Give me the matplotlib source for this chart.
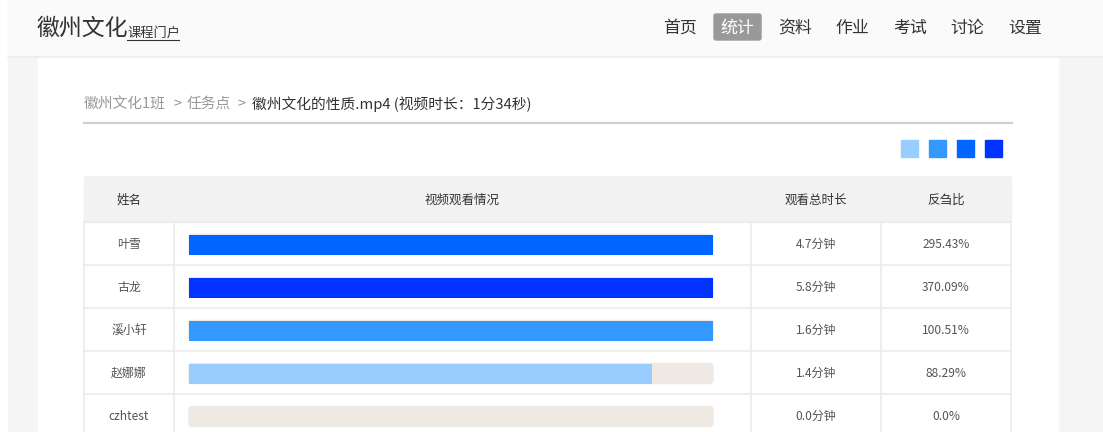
import matplotlib.pyplot as plt
from matplotlib.patches import Rectangle, FancyBboxPatch

plt.rcParams['font.family'] = ['Noto Sans CJK SC', 'DejaVu Sans']

# ------------------------ Data ------------------------
names = ["叶雪", "古龙", "溪小轩", "赵娜娜", "czhtest"]
watch_minutes = ["4.7分钟", "5.8分钟", "1.6分钟", "1.4分钟", "0.0分钟"]
ratio = [295.43, 370.09, 100.51, 88.29, 0.0]
ratio_labels = ["295.43%", "370.09%", "100.51%", "88.29%", "0.0%"]

nav_items = ["首页", "统计", "资料", "作业", "考试", "讨论", "设置"]
nav_x = [680, 737, 795, 852, 910, 967, 1025]
active_nav = "统计"

crumbs = ["徽州文化1班", ">", "任务点", ">"]
crumb_x = [84, 174, 187, 238]
crumb_title = "徽州文化的性质.mp4 (视频时长：1分34秒)"

legend_colors = ["#99ccff", "#3399ff", "#0066ff", "#0033ff"]
col_headers = ["姓名", "视频观看情况", "观看总时长", "反刍比"]


def bar_color(r):
    if r >= 300:
        return legend_colors[3]
    if r >= 200:
        return legend_colors[2]
    if r >= 100:
        return legend_colors[1]
    return legend_colors[0]


W, H = 1103, 432
fig = plt.figure(figsize=(W / 100, H / 100), dpi=100)
ax = fig.add_axes([0, 0, 1, 1])
ax.set_xlim(0, W)
ax.set_ylim(H, 0)
ax.axis('off')

# ------------------------ Page background ------------------------
ax.add_patch(Rectangle((8, 0), W - 8, H, color="#f5f5f5", zorder=0))
ax.add_patch(Rectangle((38, 56), 1020, H, color="white", zorder=1))

# header
ax.add_patch(Rectangle((8, 0), W - 9, 56, color="#fafafa", zorder=1))
ax.plot([8, W - 1], [56.5, 56.5], color="#ececec", lw=1.2, zorder=2)
ax.text(37, 28, "徽州文化", fontsize=16.5, color="#333333", va="center", zorder=3)
ax.text(127, 33, "课程门户", fontsize=9.5, color="#333333", va="center", zorder=3)
ax.plot([127, 179], [40, 40], color="#333333", lw=0.8, zorder=3)

for label, x in zip(nav_items, nav_x):
    if label == active_nav:
        ax.add_patch(FancyBboxPatch((714, 14), 47, 26, boxstyle="round,pad=0,rounding_size=2",
                                    color="#999999", zorder=2))
        ax.text(x, 27.5, label, fontsize=12.2, color="white", ha="center", va="center", zorder=3)
    else:
        ax.text(x, 27.5, label, fontsize=12.2, color="#333333", ha="center", va="center", zorder=3)

# breadcrumb
for label, x in zip(crumbs, crumb_x):
    ax.text(x, 104, label, fontsize=10.6, color="#999999", va="center", zorder=3)
ax.text(252, 104, crumb_title, fontsize=10.6, color="#333333", va="center", zorder=3)
ax.plot([84, 1012], [123, 123], color="#d0d0d0", lw=1.6, zorder=3)

# legend squares
for i, c in enumerate(legend_colors):
    ax.add_patch(Rectangle((901 + i * 28, 140), 17, 17, color=c, zorder=3))

# ------------------------ Table ------------------------
tx0, tx1 = 84, 1011
col_edges = [84, 174, 751, 881, 1011]
head_top, head_bot = 176, 222
row_h = 43

ax.add_patch(Rectangle((tx0, head_top), tx1 - tx0, head_bot - head_top, color="#f2f2f2", zorder=2))
for i, h in enumerate(col_headers):
    cx = (col_edges[i] + col_edges[i + 1]) / 2
    ax.text(cx, 200, h, fontsize=9, color="#333333", ha="center", va="center", zorder=3)

row_centers = [head_bot + row_h * (i + 0.5) for i in range(len(names))]
table_bottom = head_bot + row_h * len(names)

line_c = "#ebebeb"
for i in range(len(names) + 1):
    y = head_bot + row_h * i
    ax.plot([tx0, tx1], [y, y], color=line_c, lw=1.2, zorder=3)
for x in col_edges:
    ax.plot([x, x], [head_bot, table_bottom], color=line_c, lw=1.2, zorder=3)

bar_left, bar_w, bar_h = 189, 524, 20

# background tracks
for yc in row_centers:
    ax.add_patch(FancyBboxPatch((bar_left, yc - bar_h / 2 + 1), bar_w, bar_h,
                                boxstyle="round,pad=0,rounding_size=3", color="#efe9e3", zorder=3))

widths = [min(r, 100) / 100 * bar_w for r in ratio]
ax.barh([yc + 1 for yc in row_centers], widths, height=bar_h, left=bar_left,
        color=[bar_color(r) for r in ratio], zorder=4)

for i, yc in enumerate(row_centers):
    ax.text(129, yc + 1, names[i], fontsize=8.6, color="#555555", ha="center", va="center", zorder=5)
    ax.text(816, yc + 1, watch_minutes[i], fontsize=8.6, color="#555555", ha="center", va="center", zorder=5)
    ax.text(946, yc + 1, ratio_labels[i], fontsize=8.6, color="#555555", ha="center", va="center", zorder=5)

fig.savefig("out.png", dpi=100)
plt.close(fig)
